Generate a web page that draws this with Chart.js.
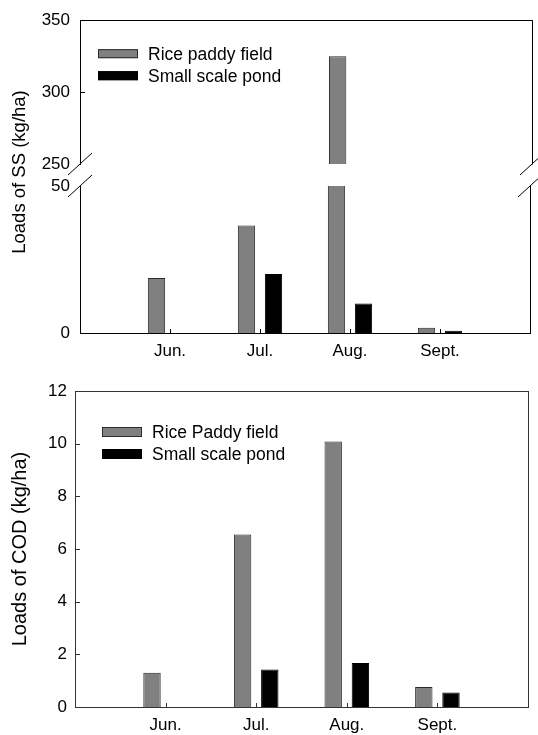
<!DOCTYPE html>
<html>
<head>
<meta charset="utf-8">
<script src="https://cdn.jsdelivr.net/npm/chart.js@4.4.0/dist/chart.umd.min.js"></script>
<style>
  html, body { margin: 0; padding: 0; background: #fff; }
  #wrap { position: relative; width: 538px; height: 735px; }
  .box { position: absolute; left: 0; width: 538px; }
</style>
</head>
<body>
<div id="wrap">
  <div class="box" style="top:0;height:365px"><canvas id="ssUpper"></canvas></div>
  <div class="box" style="top:0;height:365px"><canvas id="ssLower"></canvas></div>
  <div class="box" style="top:365px;height:370px"><canvas id="codChart"></canvas></div>
</div>
<script>
// months and values
const months = ['Jun.', 'Jul.', 'Aug.', 'Sept.'];
const ssPaddy = [18.7, 36.6, 325, 1.8];
const ssPond = [0, 20.1, 10.0, 0.8];
const codPaddy = [1.3, 6.55, 10.08, 0.76];
const codPond = [0, 1.42, 1.67, 0.55];
const ssUpperTicks = [250, 300, 350];
const ssLowerTicks = [0, 50];
const codTicks = [0, 2, 4, 6, 8, 10, 12];

const FONT = "'Liberation Sans', Arial, sans-serif";
Chart.defaults.font.family = FONT;
Chart.defaults.font.size = 17;
Chart.defaults.color = '#000';
Chart.defaults.animation = false;

// empty slot before Jun. and after Sept.
const slots = ['', ...months, ''];
const padded = arr => [null, ...arr, null];

function barSets(paddyLabel, paddy, pond) {
    return [
        { label: paddyLabel, data: padded(paddy), backgroundColor: '#808080', borderColor: '#2b2b2b', borderWidth: 1, clip: 0 },
        { label: 'Small scale pond', data: padded(pond), backgroundColor: '#000', borderColor: '#000', borderWidth: 1, clip: 0 }
    ];
}

function xAxis(show, height, color) {
    return {
        type: 'category', offset: false, display: show,
        grid: { display: false, drawTicks: false },
        border: { display: show, color: color, width: 1 },
        ticks: { padding: 8, autoSkip: false, maxRotation: 0 },
        afterFit: s => { s.height = height; }
    };
}

function yAxis(min, max, tickList, width, pad, color) {
    return {
        min: min, max: max,
        grid: { display: false, drawTicks: false },
        border: { display: true, color: color, width: 1 },
        ticks: { padding: pad },
        afterBuildTicks: s => { s.ticks = tickList.map(v => ({ value: v })); },
        afterFit: s => { s.width = width; }
    };
}

// frame sides, inward ticks, axis breaks, legend and side title
const panelDecor = {
    id: 'panelDecor',
    afterDatasetsDraw(chart, args, o) {
        const { ctx, chartArea: a, scales } = chart;
        const px = v => Math.round(v) + 0.5;
        ctx.save();
        ctx.strokeStyle = o.color || '#000';
        ctx.lineWidth = 1;
        ctx.beginPath();
        if (o.frameTop) { ctx.moveTo(a.left, px(a.top)); ctx.lineTo(a.right + 0.5, px(a.top)); }
        ctx.moveTo(px(a.right), a.top); ctx.lineTo(px(a.right), a.bottom + 0.5);
        // y ticks pointing in
        scales.y.ticks.forEach(t => {
            const y = scales.y.getPixelForValue(t.value);
            if (Math.abs(y - a.top) < 1 || Math.abs(y - a.bottom) < 1) return;
            ctx.moveTo(a.left, px(y)); ctx.lineTo(a.left + 5, px(y));
        });
        // x ticks pointing up
        if (o.xTicks) {
            chart.data.labels.forEach((lab, i) => {
                if (lab === '') return;
                const x = scales.x.getPixelForValue(i);
                ctx.moveTo(px(x), a.bottom); ctx.lineTo(px(x), a.bottom - 4);
            });
        }
        ctx.stroke();
        // break marks
        if (o.breakAt) {
            const y = o.breakAt === 'top' ? a.top : a.bottom;
            ctx.strokeStyle = '#000';
            ctx.beginPath();
            [a.left, a.right].forEach(x => {
                ctx.moveTo(x - 12, y + 11); ctx.lineTo(x + 12, y - 11);
            });
            ctx.stroke();
        }
        // legend
        if (o.legend) {
            const L = o.legend;
            ctx.font = L.size + 'px ' + FONT;
            ctx.textBaseline = 'middle';
            ctx.textAlign = 'left';
            chart.data.datasets.forEach((ds, i) => {
                const x = a.left + L.x, y = a.top + L.y + i * L.gap;
                ctx.fillStyle = ds.backgroundColor;
                ctx.fillRect(x, y, L.w, L.h);
                ctx.strokeStyle = ds.borderColor;
                ctx.strokeRect(x + 0.5, y + 0.5, L.w - 1, L.h - 1);
                ctx.fillStyle = '#000';
                ctx.fillText(ds.label, x + L.w + 10, y + L.h / 2 + 1);
            });
        }
        if (o.sideTitle) {
            const T = o.sideTitle;
            ctx.translate(T.x, T.y);
            ctx.rotate(-Math.PI / 2);
            ctx.font = T.size + 'px ' + FONT;
            ctx.textAlign = 'center';
            ctx.textBaseline = 'middle';
            ctx.fillStyle = '#000';
            ctx.fillText(T.text, 0, 0);
        }
        ctx.restore();
    }
};

const barOpts = { categoryPercentage: 0.6, barPercentage: 0.64 };

// SS, upper segment (250-350)
new Chart(document.getElementById('ssUpper'), {
    type: 'bar',
    data: { labels: slots, datasets: barSets('Rice paddy field', ssPaddy, ssPond) },
    options: {
        responsive: true, maintainAspectRatio: false,
        datasets: { bar: barOpts },
        layout: { padding: { top: 16, right: 6, bottom: 201, left: 0 } },
        scales: { x: xAxis(false, 0, '#000'), y: yAxis(250, 350, ssUpperTicks, 80, 10, '#000') },
        plugins: {
            legend: { display: false }, tooltip: { enabled: false },
            panelDecor: { color: '#000', frameTop: true, breakAt: 'bottom',
                legend: { x: 18, y: 29, gap: 22, w: 40, h: 9, size: 17.5 } }
        }
    },
    plugins: [panelDecor]
});

// SS, lower segment (0-50)
new Chart(document.getElementById('ssLower'), {
    type: 'bar',
    data: { labels: slots, datasets: barSets('Rice paddy field', ssPaddy, ssPond) },
    options: {
        responsive: true, maintainAspectRatio: false,
        datasets: { bar: barOpts },
        layout: { padding: { top: 186, right: 6, bottom: 0, left: 0 } },
        scales: { x: xAxis(true, 32, '#000'), y: yAxis(0, 50, ssLowerTicks, 80, 10, '#000') },
        plugins: {
            legend: { display: false }, tooltip: { enabled: false },
            panelDecor: { color: '#000', breakAt: 'top', xTicks: true,
                sideTitle: { text: 'Loads of SS (kg/ha)', x: 20, y: 172, size: 18.5 } }
        }
    },
    plugins: [panelDecor]
});

// COD
const codY = yAxis(0, 12, codTicks, 75, 8, '#333');
codY.title = { display: true, text: 'Loads of COD (kg/ha)', font: { size: 20 }, padding: { top: 8, bottom: 0 } };
new Chart(document.getElementById('codChart'), {
    type: 'bar',
    data: { labels: slots, datasets: barSets('Rice Paddy field', codPaddy, codPond) },
    options: {
        responsive: true, maintainAspectRatio: false,
        datasets: { bar: barOpts },
        layout: { padding: { top: 26, right: 10, bottom: 0, left: 0 } },
        scales: { x: xAxis(true, 28, '#333'), y: codY },
        plugins: {
            legend: { display: false }, tooltip: { enabled: false },
            panelDecor: { color: '#333', frameTop: true, xTicks: true,
                legend: { x: 27, y: 36, gap: 22, w: 40, h: 10, size: 17.5 } }
        }
    },
    plugins: [panelDecor]
});
</script>
</body>
</html>
